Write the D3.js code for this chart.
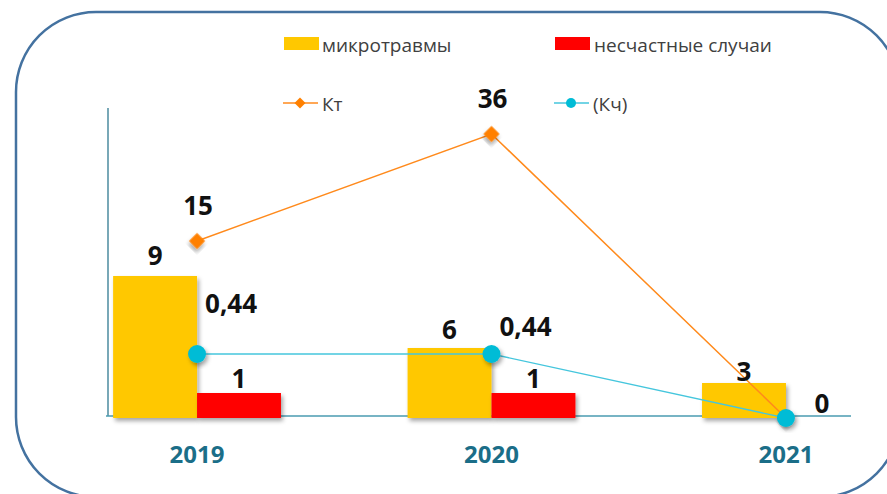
<!DOCTYPE html>
<html>
<head>
<meta charset="utf-8">
<script src="https://cdn.jsdelivr.net/npm/d3@7"></script>
<style>
  html, body { margin: 0; padding: 0; background: #fff; }
  svg { display: block; }
</style>
</head>
<body>
<div id="chart"></div>
<script>
// данные
const years = ["2019", "2020", "2021"];
const microtraumas = [9, 6, 3];
const accidents = [1, 1, 0];
const kt = [15, 36, 0];
const kch = [0.44, 0.44, 0];

const W = 887, H = 494;
const numFont = "'Open Sans', 'DejaVu Sans', sans-serif";
const fmt = v => String(v).replace(".", ",");

const svg = d3.select("#chart").append("svg")
    .attr("width", W)
    .attr("height", H);

// тень
const defs = svg.append("defs");
const f = defs.append("filter").attr("id", "shadow")
    .attr("x", "-30%").attr("y", "-30%").attr("width", "160%").attr("height", "160%");
f.append("feDropShadow")
    .attr("dx", 2).attr("dy", 3).attr("stdDeviation", 2)
    .attr("flood-color", "#000").attr("flood-opacity", 0.35);

// рамка
svg.append("rect")
    .attr("x", 16).attr("y", 12)
    .attr("width", 884).attr("height", 485)
    .attr("rx", 80).attr("ry", 80)
    .attr("fill", "none")
    .attr("stroke", "#4472a0")
    .attr("stroke-width", 2.5);

// шкалы
const x = d3.scaleBand().domain(years)
    .range([-13.5, 996.5])
    .paddingInner(0.43).paddingOuter(0.43);
const xSub = d3.scaleBand().domain(["micro", "acc"]).range([0, x.bandwidth()]);
const cx = i => x(years[i]) + x.bandwidth() / 2;

// на исходной диаграмме оси не пропорциональны подписям
const yBar = d3.scaleLinear().domain([0, 1, 3, 6, 9]).range([418, 393, 383, 348, 276]);
const yKt = d3.scaleLinear().domain([0, 15, 36]).range([418, 241, 134]);
const yKch = d3.scaleLinear().domain([0, 0.44]).range([418, 354]);

// оси
svg.append("line")
    .attr("x1", 108).attr("x2", 108)
    .attr("y1", 108).attr("y2", 416)
    .attr("stroke", "#1f6e87").attr("stroke-width", 1.2);
svg.append("line")
    .attr("x1", 106).attr("x2", 851)
    .attr("y1", 416).attr("y2", 416)
    .attr("stroke", "#4a9bb0").attr("stroke-width", 1.5);

const xAxis = svg.append("g")
    .attr("transform", "translate(0,416)")
    .call(d3.axisBottom(x).tickSize(0));
xAxis.select(".domain").remove();
xAxis.selectAll("text")
    .attr("y", 47).attr("dy", null)
    .style("font-family", numFont)
    .style("font-size", "24px")
    .style("font-weight", "bold")
    .attr("fill", "#1b6e88");

// столбцы
const bars = [
    {key: "micro", values: microtraumas, color: "#ffc800", dy: -9},
    {key: "acc", values: accidents, color: "#ff0000", dy: -5}
];
bars.forEach(s => {
    svg.append("g").selectAll("rect")
        .data(s.values)
        .join("rect")
        .attr("x", (d, i) => x(years[i]) + xSub(s.key))
        .attr("y", d => yBar(d))
        .attr("width", xSub.bandwidth())
        .attr("height", d => yBar(0) - yBar(d))
        .attr("fill", s.color)
        .attr("filter", "url(#shadow)");
});

// линии
const ktLine = d3.line().x((d, i) => cx(i)).y(d => yKt(d));
const kchLine = d3.line().x((d, i) => cx(i)).y(d => yKch(d));

svg.append("path").datum(kt)
    .attr("d", ktLine)
    .attr("fill", "none")
    .attr("stroke", "#ff8a1c")
    .attr("stroke-width", 1.5);
svg.append("g").selectAll("path")
    .data(kt)
    .join("path")
    .attr("d", d3.symbol(d3.symbolSquare, 130))
    .attr("transform", (d, i) => `translate(${cx(i)},${yKt(d)}) rotate(45)`)
    .attr("fill", "#ff8000")
    .attr("filter", "url(#shadow)");

svg.append("path").datum(kch)
    .attr("d", kchLine)
    .attr("fill", "none")
    .attr("stroke", "#45c6dd")
    .attr("stroke-width", 1.3);
svg.append("g").selectAll("circle")
    .data(kch)
    .join("circle")
    .attr("cx", (d, i) => cx(i))
    .attr("cy", d => yKch(d))
    .attr("r", 9)
    .attr("fill", "#00bcd6")
    .attr("filter", "url(#shadow)");

// подписи значений
function label(xp, yp, txt) {
    svg.append("text")
        .attr("x", xp).attr("y", yp)
        .attr("text-anchor", "middle")
        .style("font-family", numFont)
        .style("font-size", "26px")
        .style("font-weight", "bold")
        .attr("fill", "#111")
        .text(txt);
}
const barNudge = {micro: [-2, 0, 7], acc: [0, 0, 0]};
bars.forEach(s => {
    s.values.forEach((v, i) => {
        if (v === 0) return;
        label(x(years[i]) + xSub(s.key) + xSub.bandwidth() / 2, yBar(v) + s.dy + barNudge[s.key][i], fmt(v));
    });
});
kt.forEach((v, i) => {
    if (v === 0) return;
    label(cx(i) + 1, yKt(v) - 26, fmt(v));
});
const kchNudge = [[34, -41], [34, -18], [36, -5]];
kch.forEach((v, i) => {
    label(cx(i) + kchNudge[i][0], yKch(v) + kchNudge[i][1], fmt(v));
});

// легенда
const legend = svg.append("g")
    .style("font-family", "'Open Sans', 'Noto Sans', sans-serif")
    .style("font-size", "19px")
    .attr("fill", "#404040");

legend.append("rect").attr("x", 284).attr("y", 37).attr("width", 35).attr("height", 13).attr("fill", "#ffc800");
legend.append("text").attr("x", 322).attr("y", 52).text("микротравмы");
legend.append("rect").attr("x", 555).attr("y", 37).attr("width", 35).attr("height", 13).attr("fill", "#ff0000");
legend.append("text").attr("x", 594).attr("y", 52).text("несчастные случаи");

legend.append("line").attr("x1", 283).attr("x2", 318).attr("y1", 103).attr("y2", 103)
    .attr("stroke", "#ff8a1c").attr("stroke-width", 1.5);
legend.append("path").attr("d", d3.symbol(d3.symbolSquare, 60))
    .attr("transform", "translate(300,103) rotate(45)").attr("fill", "#ff8000");
legend.append("text").attr("x", 322).attr("y", 111).text("Кт");

legend.append("line").attr("x1", 554).attr("x2", 589).attr("y1", 103).attr("y2", 103)
    .attr("stroke", "#45c6dd").attr("stroke-width", 1.5);
legend.append("circle").attr("cx", 571).attr("cy", 103).attr("r", 5).attr("fill", "#00bcd6");
legend.append("text").attr("x", 593).attr("y", 111).text("(Кч)");
</script>
</body>
</html>
